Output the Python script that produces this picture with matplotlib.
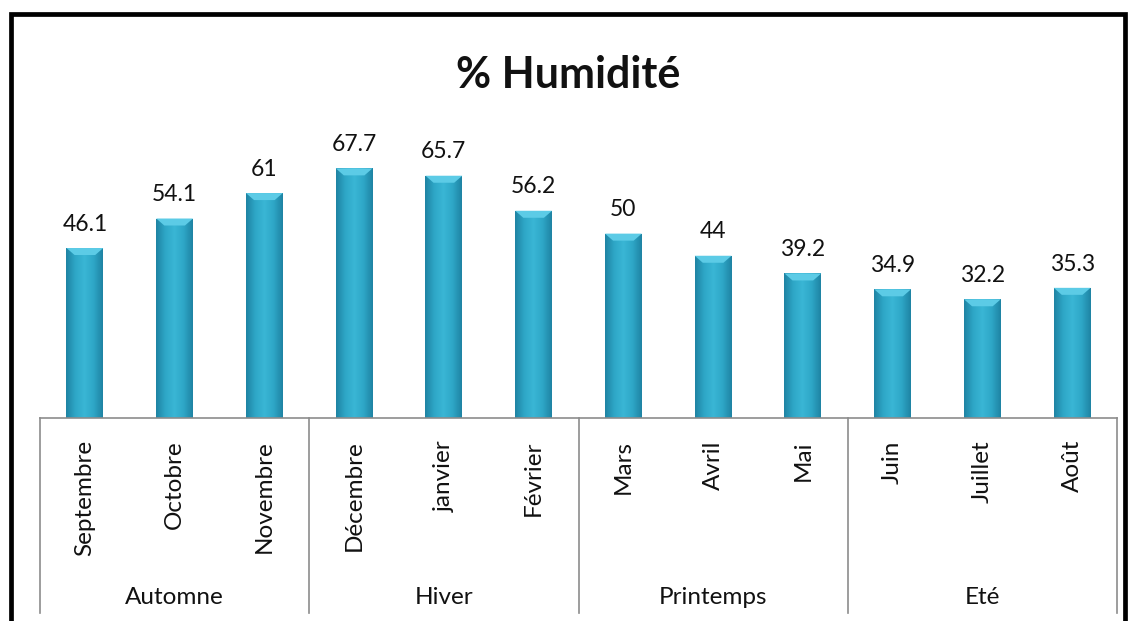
import matplotlib.pyplot as plt
import numpy as np
from matplotlib.colors import LinearSegmentedColormap
from matplotlib.patches import Rectangle, Polygon

months = ['Septembre', 'Octobre', 'Novembre', 'Décembre', 'janvier', 'Février',
          'Mars', 'Avril', 'Mai', 'Juin', 'Juillet', 'Août']
seasons = ['Automne', 'Hiver', 'Printemps', 'Eté']
humidity = [46.1, 54.1, 61, 67.7, 65.7, 56.2, 50, 44, 39.2, 34.9, 32.2, 35.3]

plt.rcParams['font.family'] = ['Lato', 'DejaVu Sans']

fig = plt.figure(figsize=(11.36, 6.21), dpi=100)
ax = fig.add_axes([40 / 1136, 203 / 621, 1077 / 1136, 295 / 621])
ax.set_xlim(-0.5, len(months) - 0.5)
ax.set_ylim(0, 80)
ax.axis('off')

# cylinder-like shading across each bar
shade = LinearSegmentedColormap.from_list(
    'shade', ['#1f84a4', '#2ea7c7', '#3ab6d5', '#2ea7c7', '#1f84a4'])
grad = np.linspace(0, 1, 64).reshape(1, -1)

x = np.arange(len(months))
width = 0.41
bars = ax.bar(x, humidity, width=width, color='#2ea7c7', zorder=2)
for b, v in zip(bars, humidity):
    x0 = b.get_x()
    im = ax.imshow(grad, cmap=shade, aspect='auto', zorder=3,
                   extent=(x0, x0 + width, 0, v))
    im.set_clip_path(b)
    # bevelled top edge
    bev = 1.9
    ax.add_patch(Polygon([(x0, v), (x0 + width, v),
                          (x0 + width * 0.78, v - bev), (x0 + width * 0.22, v - bev)],
                         closed=True, color='#5ccbe6', lw=0, zorder=4))
    ax.text(x0 + width / 2, v + 3.6, f'{v:g}', ha='center', va='bottom',
            fontsize=16.5, color='#111111')

tr = ax.get_xaxis_transform()
ax.plot([-0.5, len(months) - 0.5], [0, 0], transform=tr, color='#8c8c8c',
        lw=1.2, clip_on=False, zorder=5)
for k in range(len(seasons) + 1):
    xs = -0.5 + 3 * k
    ax.plot([xs, xs], [0, -0.661], transform=tr, color='#8c8c8c', lw=1.2,
            clip_on=False)

for i, m in enumerate(months):
    ax.text(i, -0.075, m, transform=tr, rotation=90, ha='center', va='top',
            fontsize=17.5, color='#111111')
for k, s in enumerate(seasons):
    ax.text(3 * k + 1, -0.61, s, transform=tr, ha='center', va='center',
            fontsize=17.5, color='#111111')

fig.text(0.5, 1 - 75 / 621, '% Humidité', ha='center', va='center',
         fontsize=31, fontweight='bold', color='#111111')

# outer chart frame
fig.patches.append(Rectangle((11 / 1136, -0.05), 1114 / 1136, 1.05 - 14 / 621,
                             transform=fig.transFigure, fill=False,
                             edgecolor='black', lw=3.4))

fig.savefig('out.png', dpi=100)
